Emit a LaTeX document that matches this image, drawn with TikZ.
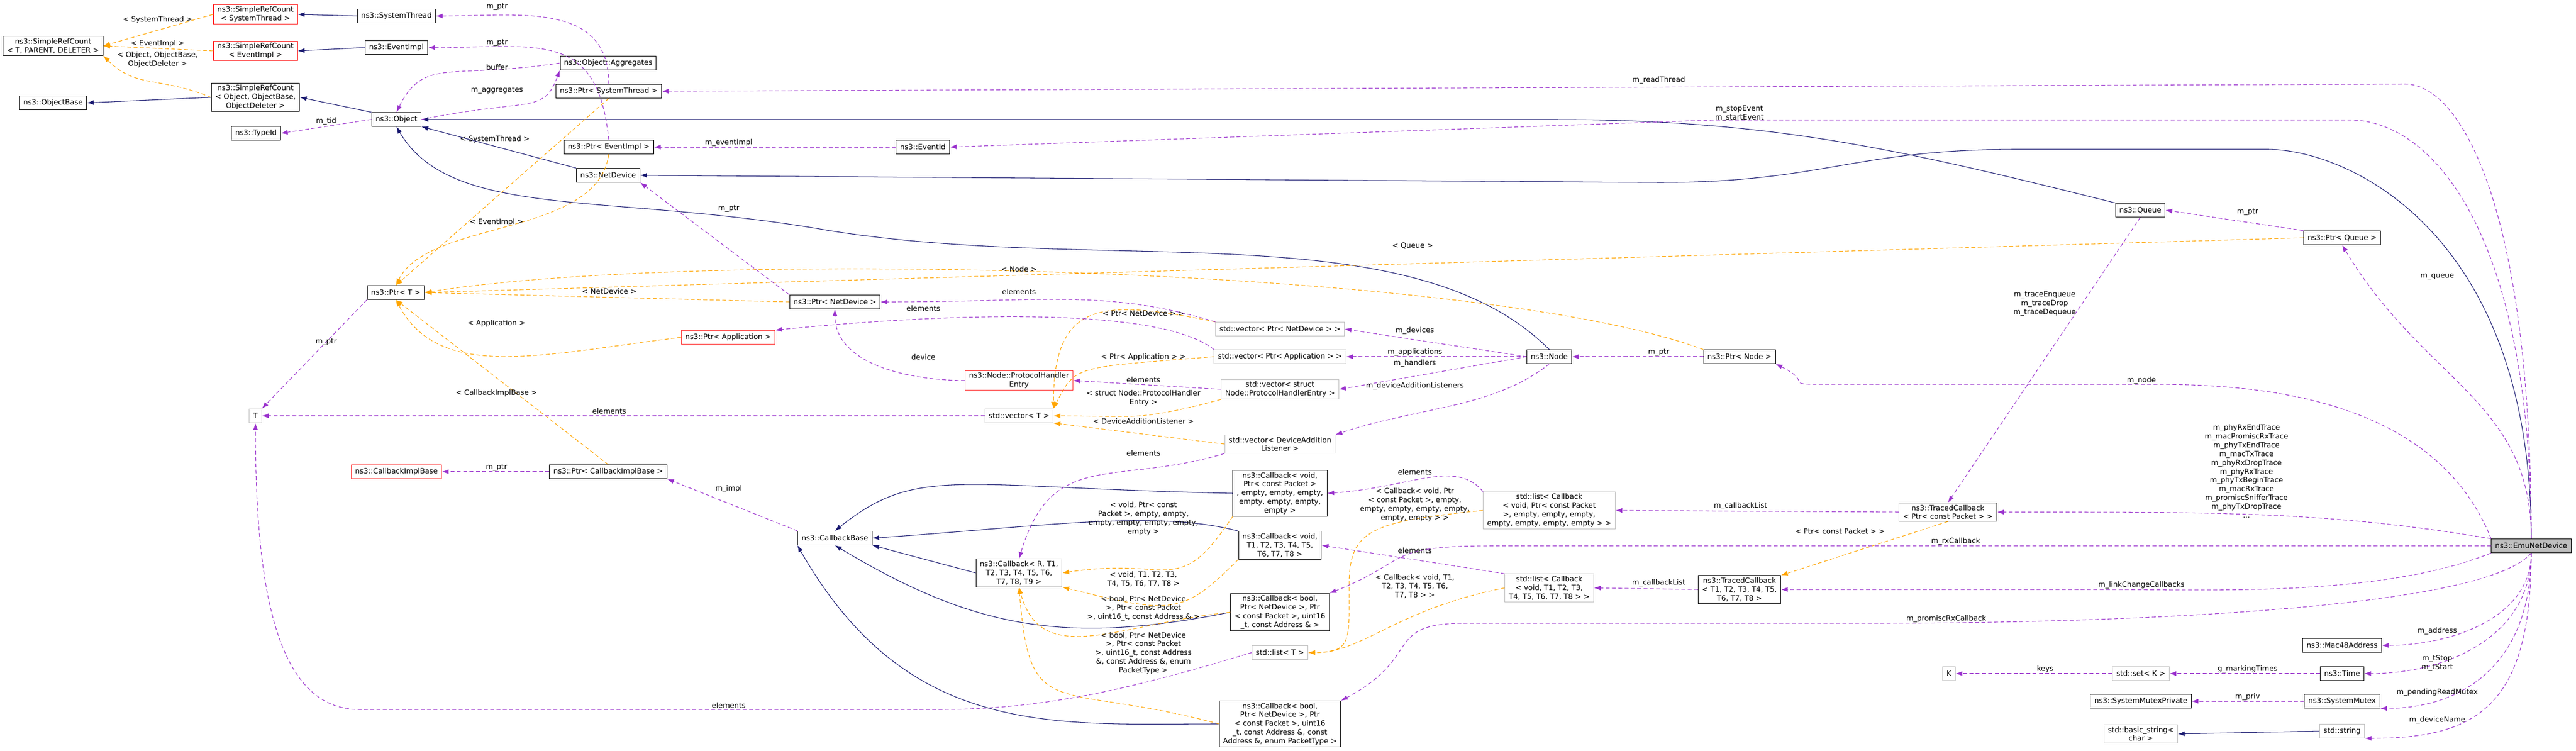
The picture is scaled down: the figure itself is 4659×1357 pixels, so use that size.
\documentclass[tikz,border=0pt]{standalone}
\usepackage{fontspec}
\setmainfont{DejaVu Sans}
\usetikzlibrary{positioning,arrows.meta}
\definecolor{dxnavy}{HTML}{191970}
\definecolor{dxpurple}{HTML}{9A32CD}
\definecolor{dxorange}{HTML}{FFA500}
\definecolor{dxred}{HTML}{FF3030}
\definecolor{dxgray}{HTML}{BFBFBF}
\tikzset{
  cls/.style={
    draw,
    rectangle,
    fill=white,
    inner xsep=4pt,
    inner ysep=2pt,
    minimum height=0.5cm,
    align=center,
    line width=0.6pt,
    font=\fontsize{7.5}{9}\selectfont
  },
  redcls/.style={cls, draw=dxred},
  graycls/.style={cls, draw=dxgray},
  hilite/.style={cls, fill=dxgray},
  line/.style={->,>={Latex[length=7pt,width=5pt]},line width=0.6pt},
  inh/.style={line, draw=dxnavy},
  usage/.style={line, draw=dxpurple, dash pattern=on 4pt off 2.5pt},
  tmpl/.style={line, draw=dxorange, dash pattern=on 4pt off 2.5pt},
  lbl/.style={font=\fontsize{7.5}{9}\selectfont, inner sep=1pt, align=center}
}
\begin{document}
\begin{tikzpicture}[x=0.02cm,y=0.02cm]
\useasboundingbox (0,0) rectangle (4659,1357);

		% left column
		\node[cls] (ref_count) at (96,1274) {ns3::SimpleRefCount\\< T, PARENT, DELETER >};
		\node[cls] (object_base) at (96,1171) {ns3::ObjectBase};
		\node[redcls] (ref_count_thread) at (462,1331) {ns3::SimpleRefCount\\< SystemThread >};
		\node[redcls] (ref_count_event) at (462,1265) {ns3::SimpleRefCount\\< EventImpl >};
		\node[cls] (ref_count_object) at (462,1181) {ns3::SimpleRefCount\\< Object, ObjectBase,\\ObjectDeleter >};
		\node[cls] (type_id) at (463,1116) {ns3::TypeId};
		\node[graycls] (t_param) at (462,605) {T};
		\node[redcls] (callback_impl) at (717,504) {ns3::CallbackImplBase};

		\node[cls] (system_thread) at (717,1328) {ns3::SystemThread};
		\node[cls] (event_impl) at (717,1271) {ns3::EventImpl};
		\node[cls] (object) at (717,1141) {ns3::Object};
		\node[cls] (ptr_t) at (716,828) {ns3::Ptr< T >};

		\node[cls] (aggregates) at (1100,1243) {ns3::Object::Aggregates};
		\node[cls] (ptr_thread) at (1101,1192) {ns3::Ptr< SystemThread >};
		\node[cls] (ptr_event) at (1101,1091) {ns3::Ptr< EventImpl >};
		\node[cls] (net_device) at (1100,1040) {ns3::NetDevice};
		\node[cls] (ptr_callback_impl) at (1100,504) {ns3::Ptr< CallbackImplBase >};

		\node[cls] (event_id) at (1669,1091) {ns3::EventId};
		\node[cls] (ptr_net_device) at (1510,811) {ns3::Ptr< NetDevice >};
		\node[redcls] (ptr_app) at (1317,747) {ns3::Ptr< Application >};
		\node[cls] (callback_base) at (1510,384) {ns3::CallbackBase};

		\node[redcls] (handler_entry) at (1843,669) {ns3::Node::ProtocolHandler\\Entry};
		\node[graycls] (vector_t) at (1843,605) {std::vector< T >};
		\node[cls] (callback_r) at (1843,321) {ns3::Callback< R, T1,\\T2, T3, T4, T5, T6,\\T7, T8, T9 >};

		% middle column
		\node[graycls] (vector_devices) at (2315,762) {std::vector< Ptr< NetDevice > >};
		\node[graycls] (vector_apps) at (2315,712) {std::vector< Ptr< Application > >};
		\node[graycls] (vector_handlers) at (2315,653) {std::vector< struct\\Node::ProtocolHandlerEntry >};
		\node[graycls] (vector_listeners) at (2315,554) {std::vector< DeviceAddition\\Listener >};
		\node[cls] (callback_packet) at (2315,465) {ns3::Callback< void,\\Ptr< const Packet >\\, empty, empty, empty,\\empty, empty, empty,\\empty >};
		\node[cls] (callback_void) at (2315,371) {ns3::Callback< void,\\T1, T2, T3, T4, T5,\\T6, T7, T8 >};
		\node[cls] (callback_rx) at (2315,250) {ns3::Callback< bool,\\Ptr< NetDevice >, Ptr\\< const Packet >, uint16\\\_t, const Address \& >};
		\node[graycls] (list_t) at (2315,177) {std::list< T >};
		\node[cls] (callback_promisc) at (2315,48) {ns3::Callback< bool,\\Ptr< NetDevice >, Ptr\\< const Packet >, uint16\\\_t, const Address \&, const\\Address \&, enum PacketType >};

		\node[cls] (node) at (2802,712) {ns3::Node};
		\node[graycls] (list_packet) at (2802,434) {std::list< Callback\\< void, Ptr< const Packet\\>, empty, empty, empty,\\empty, empty, empty, empty > >};
		\node[graycls] (list_void) at (2802,294) {std::list< Callback\\< void, T1, T2, T3,\\T4, T5, T6, T7, T8 > >};

		\node[cls] (ptr_node) at (3146,712) {ns3::Ptr< Node >};
		\node[cls] (traced_t) at (3146,291) {ns3::TracedCallback\\< T1, T2, T3, T4, T5,\\T6, T7, T8 >};
		\node[cls] (traced_packet) at (3523,431) {ns3::TracedCallback\\< Ptr< const Packet > >};

		% right column
		\node[cls] (queue) at (3871,977) {ns3::Queue};
		\node[cls] (ptr_queue) at (4236,927) {ns3::Ptr< Queue >};
		\node[hilite] (emu_device) at (4578,370) {ns3::EmuNetDevice};
		\node[cls] (mac_address) at (4236,190) {ns3::Mac48Address};
		\node[cls] (time) at (4236,139) {ns3::Time};
		\node[graycls] (set_k) at (3872,139) {std::set< K >};
		\node[graycls] (k_param) at (3525,139) {K};
		\node[cls] (mutex_private) at (3872,89) {ns3::SystemMutexPrivate};
		\node[cls] (mutex) at (4236,89) {ns3::SystemMutex};
		\node[graycls] (basic_string) at (3872,30) {std::basic\_string<\\char >};
		\node[graycls] (string) at (4236,35) {std::string};

		%%%%%%%%%%%%%%%%%%%%%%%%%%%%%%%%%%%%%%%%%%%%%%%%%%%%%%%%%%%%%%%%

		\draw[inh] (system_thread.west) -- (ref_count_thread.east) ;
		\draw[inh] (event_impl.west) -- (ref_count_event.east) ;
		\draw[inh] (ref_count_object.west) -- (object_base.east) ;
		\draw[inh] (object.north west) -- (ref_count_object.east) ;
		\draw[inh] (net_device.north west) -- (object.south east) ;
		\draw[inh] (node.north) .. controls +(-250,250) and +(500,-80) .. (1500,940) .. controls +(-400,70) and +(100,-170) .. (object.south) ;
		\draw[inh] (queue.north west) .. controls +(-400,100) and +(400,0) .. (2800,1141) -- (object.east) ;
		\draw[inh] (emu_device.north) .. controls +(0,550) and +(150,0) .. (4100,1087) -- (3650,1087) .. controls +(-300,0) and +(300,0) .. (3000,1027) -- (net_device.east) ;
		\draw[inh] (callback_r.west) -- (callback_base.south east) ;
		\draw[inh] (callback_packet.west) .. controls +(-500,10) and +(150,120) .. (callback_base.north) ;
		\draw[inh] (callback_void.north west) .. controls +(-150,40) and +(300,20) .. (callback_base.east) ;
		\draw[inh] (callback_rx.west) .. controls +(-300,-60) and +(250,-150) .. (callback_base.south) ;
		\draw[inh] (callback_promisc.west) .. controls +(-300,0) and +(200,-350) .. (callback_base.south west) ;
		\draw[inh] (string.west) -- (basic_string.east) ;

		\draw[tmpl] (ref_count_thread.west) -- (ref_count.east) node[lbl] at (285,1321) {< SystemThread >};
		\draw[tmpl] (ref_count_event.west) -- (ref_count.east) node[lbl] at (285,1278) {< EventImpl >};
		\draw[tmpl] (ref_count_object.west) .. controls +(-100,40) and +(60,-60) .. (ref_count.south east) node[lbl] at (285,1249) {< Object, ObjectBase,\\ObjectDeleter >};
		\draw[tmpl] (ptr_thread.south) -- (ptr_t.north) node[lbl] at (895,1105) {< SystemThread >};
		\draw[tmpl] (ptr_event.south) .. controls +(-20,-150) and +(60,120) .. (ptr_t.north) node[lbl] at (898,955) {< EventImpl >};
		\draw[tmpl] (ptr_queue.west) -- (ptr_t.east) node[lbl] at (2555,913) {< Queue >};
		\draw[tmpl] (ptr_node.north west) .. controls +(-400,150) and +(500,80) .. (ptr_t.east) node[lbl] at (1843,870) {< Node >};
		\draw[tmpl] (ptr_net_device.west) -- (ptr_t.east) node[lbl] at (1102,830) {< NetDevice >};
		\draw[tmpl] (ptr_app.west) .. controls +(-250,-30) and +(80,-150) .. (ptr_t.south) node[lbl] at (898,772) {< Application >};
		\draw[tmpl] (ptr_callback_impl.north) -- (ptr_t.south) node[lbl] at (898,646) {< CallbackImplBase >};
		\draw[tmpl] (vector_devices.north west) .. controls +(-200,40) and +(0,200) .. (vector_t.north east) node[lbl] at (2068,790) {< Ptr< NetDevice > >};
		\draw[tmpl] (vector_apps.west) .. controls +(-250,-20) and +(40,80) .. (vector_t.north east) node[lbl] at (2068,711) {< Ptr< Application > >};
		\draw[tmpl] (vector_handlers.south west) .. controls +(-150,-40) and +(150,0) .. (vector_t.east) node[lbl] at (2068,637) {< struct Node::ProtocolHandler\\Entry >};
		\draw[tmpl] (vector_listeners.west) -- (vector_t.south east) node[lbl] at (2068,595) {< DeviceAdditionListener >};
		\draw[tmpl] (callback_packet.south west) .. controls +(-100,-150) and +(200,30) .. (callback_r.east) node[lbl] at (2068,419) {< void, Ptr< const\\Packet >, empty, empty,\\empty, empty, empty, empty,\\empty >};
		\draw[tmpl] (callback_void.south west) .. controls +(-100,-100) and +(200,-50) .. (callback_r.south east) node[lbl] at (2068,310) {< void, T1, T2, T3,\\T4, T5, T6, T7, T8 >};
		\draw[tmpl] (callback_rx.west) .. controls +(-200,-20) and +(40,-150) .. (callback_r.south) node[lbl] at (2068,257) {< bool, Ptr< NetDevice\\>, Ptr< const Packet\\>, uint16\_t, const Address \& >};
		\draw[tmpl] (callback_promisc.west) .. controls +(-300,80) and +(20,-250) .. (callback_r.south) node[lbl] at (2068,176) {< bool, Ptr< NetDevice\\>, Ptr< const Packet\\>, uint16\_t, const Address\\\&, const Address \&, enum\\PacketType >};
		\draw[tmpl] (list_packet.west) .. controls +(-200,-20) and +(0,100) .. (2440,300) .. controls +(0,-100) and +(80,0) .. (list_t.east) node[lbl] at (2559,444) {< Callback< void, Ptr\\< const Packet >, empty,\\empty, empty, empty, empty,\\empty, empty > >};
		\draw[tmpl] (list_void.west) .. controls +(-200,-40) and +(100,0) .. (list_t.east) node[lbl] at (2559,297) {< Callback< void, T1,\\T2, T3, T4, T5, T6,\\T7, T8 > >};
		\draw[tmpl] (traced_packet.south) -- (traced_t.north east) node[lbl] at (3328,396) {< Ptr< const Packet > >};

		\draw[usage] (ptr_thread.north) .. controls +(0,150) and +(150,0) .. (system_thread.east) node[lbl] at (899,1345) {m\_ptr};
		\draw[usage] (ptr_event.north) .. controls +(-20,200) and +(200,0) .. (event_impl.east) node[lbl] at (899,1280) {m\_ptr};
		\draw[usage] (aggregates.west) .. controls +(-200,-30) and +(50,100) .. (object.north) node[lbl] at (899,1235) {buffer};
		\draw[usage] (object.east) .. controls +(200,40) and +(-30,-80) .. (aggregates.south west) node[lbl] at (899,1194) {m\_aggregates};
		\draw[usage] (object.west) -- (type_id.east) node[lbl] at (590,1138) {m\_tid};
		\draw[usage] (event_id.west) -- (ptr_event.east) node[lbl] at (1318,1099) {m\_eventImpl};
		\draw[usage] (emu_device.north) .. controls +(0,550) and +(150,0) .. (4250,1140) -- (3100,1140) -- (event_id.east) node[lbl] at (3146,1152) {m\_stopEvent\\m\_startEvent};
		\draw[usage] (emu_device.north) .. controls +(0,600) and +(100,0) .. (4350,1205) -- (ptr_thread.east) node[lbl] at (3000,1212) {m\_readThread};
		\draw[usage] (ptr_net_device.north west) -- (net_device.south east) node[lbl] at (1318,980) {m\_ptr};
		\draw[usage] (ptr_t.south west) -- (t_param.north east) node[lbl] at (590,739) {m\_ptr};
		\draw[usage] (vector_t.west) -- (t_param.east) node[lbl] at (1102,613) {elements};
		\draw[usage] (list_t.west) .. controls +(-200,-60) and +(200,0) .. (1700,74) -- (650,74) .. controls +(-150,0) and +(0,-300) .. (t_param.south) node[lbl] at (1318,81) {elements};
		\draw[usage] (ptr_callback_impl.west) -- (callback_impl.east) node[lbl] at (898,512) {m\_ptr};
		\draw[usage] (callback_base.north west) -- (ptr_callback_impl.south east) node[lbl] at (1318,473) {m\_impl};
		\draw[usage] (vector_devices.north west) .. controls +(-200,60) and +(300,0) .. (ptr_net_device.east) node[lbl] at (1843,829) {elements};
		\draw[usage] (vector_apps.north west) .. controls +(-100,80) and +(300,30) .. (ptr_app.north east) node[lbl] at (1670,799) {elements};
		\draw[usage] (handler_entry.west) .. controls +(-100,0) and +(0,-100) .. (ptr_net_device.south) node[lbl] at (1670,711) {device};
		\draw[usage] (vector_handlers.west) -- (handler_entry.east) node[lbl] at (2068,670) {elements};
		\draw[usage] (vector_listeners.south west) .. controls +(-200,-60) and +(60,200) .. (callback_r.north) node[lbl] at (2068,537) {elements};
		\draw[usage] (node.west) -- (vector_devices.east) node[lbl] at (2559,759) {m\_devices};
		\draw[usage] (node.west) -- (vector_apps.east) node[lbl] at (2559,720) {m\_applications};
		\draw[usage] (node.west) -- (vector_handlers.east) node[lbl] at (2559,700) {m\_handlers};
		\draw[usage] (node.south) .. controls +(-100,-80) and +(150,50) .. (vector_listeners.north east) node[lbl] at (2559,659) {m\_deviceAdditionListeners};
		\draw[usage] (ptr_node.west) -- (node.east) node[lbl] at (3000,720) {m\_ptr};
		\draw[usage] (emu_device.north west) .. controls +(-100,250) and +(200,0) .. (3900,662) -- (3350,662) .. controls +(-150,0) and +(80,-40) .. (ptr_node.south east) node[lbl] at (3873,669) {m\_node};
		\draw[usage] (ptr_queue.north west) -- (queue.east) node[lbl] at (4065,974) {m\_ptr};
		\draw[usage] (emu_device.north) .. controls +(0,250) and +(150,-250) .. (ptr_queue.south) node[lbl] at (4408,857) {m\_queue};
		\draw[usage] (queue.south) -- (traced_packet.north) node[lbl] at (3698,808) {m\_traceEnqueue\\m\_traceDrop\\m\_traceDequeue};
		\draw[usage] (emu_device.north west) .. controls +(-300,50) and +(400,0) .. (traced_packet.east) node[lbl] at (4063,505) {m\_phyRxEndTrace\\m\_macPromiscRxTrace\\m\_phyTxEndTrace\\m\_macTxTrace\\m\_phyRxDropTrace\\m\_phyRxTrace\\m\_phyTxBeginTrace\\m\_macRxTrace\\m\_promiscSnifferTrace\\m\_phyTxDropTrace\\...};
		\draw[usage] (traced_packet.west) -- (list_packet.east) node[lbl] at (3148,442) {m\_callbackList};
		\draw[usage] (list_packet.north west) .. controls +(-50,60) and +(150,10) .. (callback_packet.east) node[lbl] at (2559,503) {elements};
		\draw[usage] (traced_t.west) -- (list_void.east) node[lbl] at (3000,303) {m\_callbackList};
		\draw[usage] (list_void.north west) -- (callback_void.east) node[lbl] at (2559,361) {elements};
		\draw[usage] (emu_device.west) -- (2700,370) .. controls +(-200,0) and +(150,60) .. (callback_rx.north east) node[lbl] at (3537,378) {m\_rxCallback};
		\draw[usage] (emu_device.south west) .. controls +(-200,-80) and +(200,0) .. (3800,291) -- (traced_t.east) node[lbl] at (3873,299) {m\_linkChangeCallbacks};
		\draw[usage] (emu_device.south) .. controls +(-100,-120) and +(200,0) .. (3400,230) -- (2650,230) .. controls +(-150,0) and +(150,80) .. (callback_promisc.north east) node[lbl] at (3520,238) {m\_promiscRxCallback};
		\draw[usage] (emu_device.south) .. controls +(0,-120) and +(120,0) .. (mac_address.east) node[lbl] at (4408,216) {m\_address};
		\draw[usage] (emu_device.south) .. controls +(0,-150) and +(150,0) .. (time.east) node[lbl] at (4408,158) {m\_tStop\\m\_tStart};
		\draw[usage] (time.west) -- (set_k.east) node[lbl] at (4065,147) {g\_markingTimes};
		\draw[usage] (set_k.west) -- (k_param.east) node[lbl] at (3699,147) {keys};
		\draw[usage] (emu_device.south) .. controls +(0,-200) and +(150,0) .. (mutex.south east) node[lbl] at (4408,105) {m\_pendingReadMutex};
		\draw[usage] (mutex.west) -- (mutex_private.east) node[lbl] at (4065,97) {m\_priv};
		\draw[usage] (emu_device.south) .. controls +(0,-280) and +(200,0) .. (string.south east) node[lbl] at (4408,55) {m\_deviceName};

\end{tikzpicture}
\end{document}
